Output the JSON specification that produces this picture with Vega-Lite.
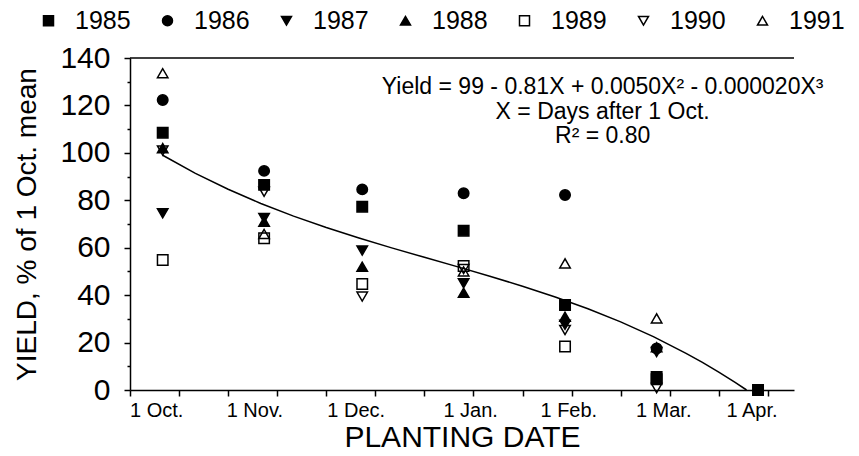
{
  "$schema": "https://vega.github.io/schema/vega-lite/v6.json",
  "width": 664,
  "height": 332,
  "autosize": {"type": "none"},
  "padding": {"left": 130, "top": 58, "right": 65, "bottom": 66},
  "background": "white",
  "config": {
    "view": {"stroke": null},
    "font": "Liberation Sans",
    "axis": {"domainColor": "black", "tickColor": "black", "labelColor": "black", "titleColor": "black", "grid": false, "domainWidth": 1.5, "tickWidth": 1.5, "titleFontWeight": "normal"},
    "legend": {"orient": "none", "legendX": -94, "legendY": -50, "direction": "horizontal", "title": null, "labelFontSize": 25, "labelColor": "black", "labelFont": "Liberation Sans", "symbolSize": 100, "symbolStrokeWidth": 1.5, "labelOffset": 14, "columnPadding": 24}
  },
  "datasets": {
    "obs": [
      {"day": 0, "yield": 108.5, "year": "1985"},
      {"day": 0, "yield": 122.3, "year": "1986"},
      {"day": 0, "yield": 74.5, "year": "1987"},
      {"day": 0, "yield": 102, "year": "1988"},
      {"day": 0, "yield": 54.8, "year": "1989"},
      {"day": 0, "yield": 101, "year": "1990"},
      {"day": 0, "yield": 133.6, "year": "1991"},
      {"day": 31, "yield": 86.5, "year": "1985"},
      {"day": 31, "yield": 92.4, "year": "1986"},
      {"day": 31, "yield": 72.5, "year": "1987"},
      {"day": 31, "yield": 71, "year": "1988"},
      {"day": 31, "yield": 64, "year": "1989"},
      {"day": 31, "yield": 83.6, "year": "1990"},
      {"day": 31, "yield": 65.8, "year": "1991"},
      {"day": 61, "yield": 77.3, "year": "1985"},
      {"day": 61, "yield": 84.6, "year": "1986"},
      {"day": 61, "yield": 58.8, "year": "1987"},
      {"day": 61, "yield": 52, "year": "1988"},
      {"day": 61, "yield": 44.7, "year": "1989"},
      {"day": 61, "yield": 39.4, "year": "1990"},
      {"day": 92, "yield": 67.2, "year": "1985"},
      {"day": 92, "yield": 83, "year": "1986"},
      {"day": 92, "yield": 45, "year": "1987"},
      {"day": 92, "yield": 41, "year": "1988"},
      {"day": 92, "yield": 52.3, "year": "1989"},
      {"day": 92, "yield": 51, "year": "1990"},
      {"day": 92, "yield": 50, "year": "1991"},
      {"day": 123, "yield": 35.8, "year": "1985"},
      {"day": 123, "yield": 82.2, "year": "1986"},
      {"day": 123, "yield": 27.5, "year": "1987"},
      {"day": 123, "yield": 30.9, "year": "1988"},
      {"day": 123, "yield": 18.3, "year": "1989"},
      {"day": 123, "yield": 25.3, "year": "1990"},
      {"day": 123, "yield": 53.4, "year": "1991"},
      {"day": 151, "yield": 5.5, "year": "1985"},
      {"day": 151, "yield": 17.5, "year": "1986"},
      {"day": 151, "yield": 16, "year": "1987"},
      {"day": 151, "yield": 18, "year": "1988"},
      {"day": 151, "yield": 4.5, "year": "1989"},
      {"day": 151, "yield": 0.8, "year": "1990"},
      {"day": 151, "yield": 30.2, "year": "1991"},
      {"day": 182, "yield": 0, "year": "1985"}
    ],
    "fit": [
      {"day": 0, "yield": 99},
      {"day": 10, "yield": 91.38},
      {"day": 20, "yield": 84.64},
      {"day": 30, "yield": 78.66},
      {"day": 40, "yield": 73.32},
      {"day": 50, "yield": 68.5},
      {"day": 60, "yield": 64.08},
      {"day": 70, "yield": 59.94},
      {"day": 80, "yield": 55.96},
      {"day": 90, "yield": 52.02},
      {"day": 100, "yield": 48},
      {"day": 110, "yield": 43.78},
      {"day": 120, "yield": 39.24},
      {"day": 130, "yield": 34.26},
      {"day": 140, "yield": 28.72},
      {"day": 150, "yield": 22.5},
      {"day": 160, "yield": 15.48},
      {"day": 165, "yield": 11.63},
      {"day": 170, "yield": 7.54},
      {"day": 175, "yield": 3.19},
      {"day": 178.5, "yield": 0}
    ]
  },
  "encoding": {
    "x": {
      "field": "day", "type": "quantitative",
      "scale": {"domain": [-10, 193], "nice": false, "zero": false},
      "axis": {
        "title": "PLANTING DATE",
        "titleFontSize": 30, "titlePadding": 2,
        "values": [-10, -2, 5, 20, 28, 35, 50, 59, 65, 80, 94, 95, 110, 124, 125, 140, 153, 155, 170, 180, 185],
        "labelExpr": "datum.value == -2 ? '1 Oct.' : datum.value == 28 ? '1 Nov.' : datum.value == 59 ? '1 Dec.' : datum.value == 94 ? '1 Jan.' : datum.value == 124 ? '1 Feb.' : datum.value == 153 ? '1 Mar.' : datum.value == 180 ? '1 Apr.' : ''",
        "tickOpacity": {"condition": {"test": "indexof([-2, 28, 59, 94, 124, 153, 180], datum.value) >= 0", "value": 0}, "value": 1},
        "labelFontSize": 20, "labelPadding": 4, "tickSize": 6,
        "labelOverlap": false, "labelFlush": false, "labelBound": false
      }
    },
    "y": {
      "field": "yield", "type": "quantitative",
      "scale": {"domain": [0, 140], "nice": false},
      "axis": {
        "title": "YIELD, % of 1 Oct. mean",
        "titleFontSize": 28, "titlePadding": 18,
        "values": [0, 10, 20, 30, 40, 50, 60, 70, 80, 90, 100, 110, 120, 130, 140],
        "labelExpr": "datum.value % 20 == 0 ? datum.label : ''",
        "tickSize": {"condition": {"test": "datum.value % 20 != 0", "value": 3}, "value": 6},
        "labelFontSize": 30, "labelPadding": 14,
        "labelOverlap": false
      }
    }
  },
  "layer": [
    {
      "data": {"name": "fit"},
      "transform": [{"filter": "datum.day == 0"}],
      "mark": {"type": "rule", "color": "black", "strokeWidth": 1.5},
      "encoding": {"x": {"datum": -10}, "x2": {"datum": 193}, "y": {"datum": 140}}
    },
    {
      "data": {"name": "fit"},
      "mark": {"type": "line", "color": "black", "strokeWidth": 1.5}
    },
    {
      "data": {"name": "obs"},
      "mark": {"type": "point", "strokeWidth": 1.5, "size": 110, "opacity": 1},
      "encoding": {
        "shape": {
          "field": "year", "type": "nominal",
          "scale": {"domain": ["1985", "1986", "1987", "1988", "1989", "1990", "1991"], "range": ["square", "circle", "triangle-down", "triangle-up", "square", "triangle-down", "triangle-up"]}
        },
        "fill": {
          "field": "year", "type": "nominal",
          "scale": {"domain": ["1985", "1986", "1987", "1988", "1989", "1990", "1991"], "range": ["black", "black", "black", "black", "transparent", "transparent", "transparent"]}
        },
        "stroke": {
          "field": "year", "type": "nominal",
          "scale": {"domain": ["1985", "1986", "1987", "1988", "1989", "1990", "1991"], "range": ["black", "black", "black", "black", "black", "black", "black"]}
        }
      }
    },
    {
      "data": {"name": "fit"},
      "transform": [{"filter": "datum.day == 0"}],
      "mark": {"type": "text", "align": "center", "baseline": "middle", "lineHeight": 24.5, "fontSize": 23, "font": "Liberation Sans", "color": "black"},
      "encoding": {
        "x": {"datum": 134.5},
        "y": {"datum": 127.6},
        "text": {"value": ["Yield = 99 - 0.81X + 0.0050X² - 0.000020X³", "X = Days after 1 Oct.", "R² = 0.80"]}
      }
    }
  ]
}
